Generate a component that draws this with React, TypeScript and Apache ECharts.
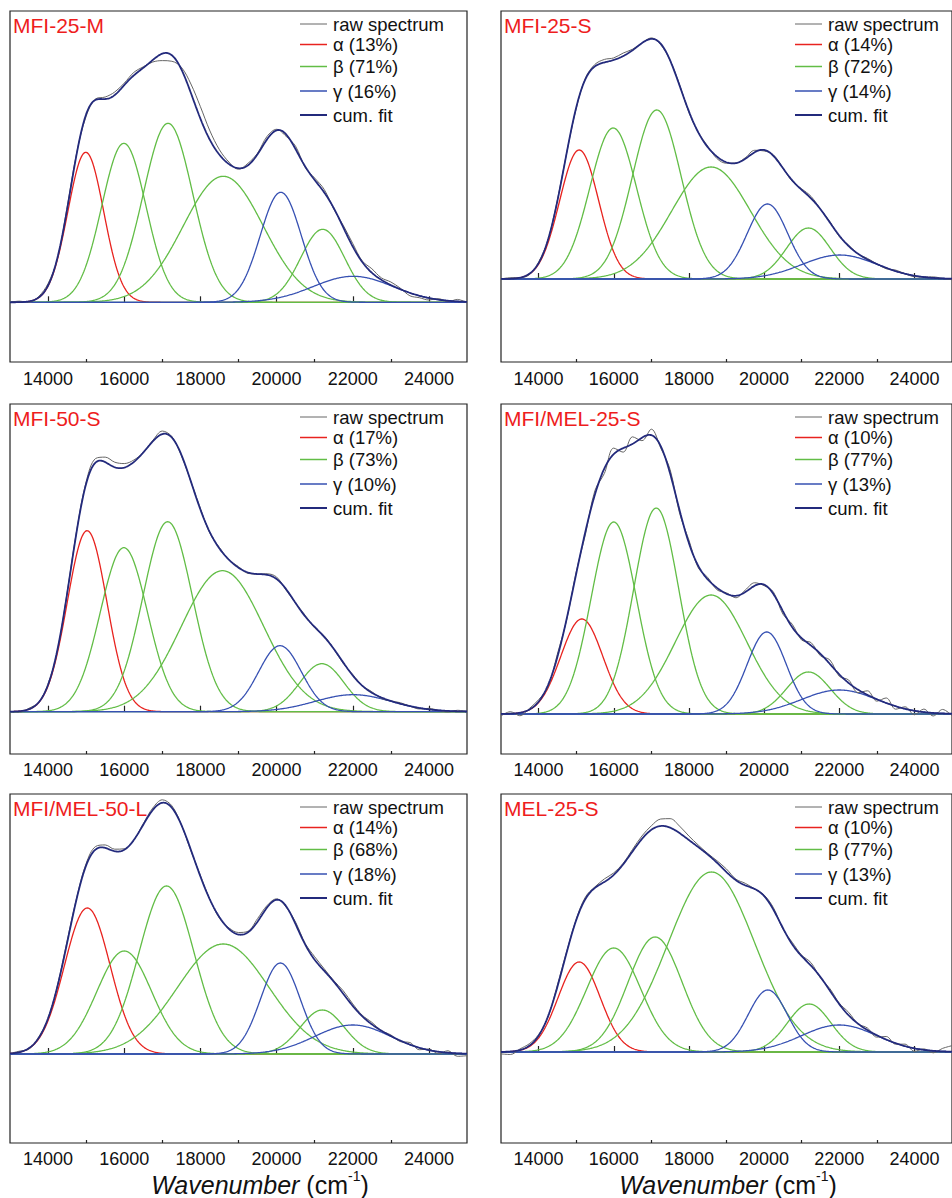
import React, { useEffect, useRef } from "react";
import * as echarts from "echarts";

// ---------- data ----------
const X_MIN = 13000;
const X_MAX = 25000;
const xTickLabels = [14000, 16000, 18000, 20000, 22000, 24000];
const xMinorTicks = [15000, 17000, 19000, 21000, 23000];

const panelTitles = ["MFI-25-M", "MFI-25-S", "MFI-50-S", "MFI/MEL-25-S", "MFI/MEL-50-L", "MEL-25-S"];
const alphaShares = [13, 14, 17, 10, 14, 10];
const betaShares = [71, 72, 73, 77, 68, 77];
const gammaShares = [16, 14, 10, 13, 18, 13];

// peak order: α, β1, β2, β3, γ1, β4, γ2
const peakKinds = ["a", "b", "b", "b", "g", "b", "g"];

const p1Centers = [14990, 15990, 17150, 18600, 20110, 21210, 22010];
const p1Heights = [150, 159, 179, 126, 110, 73, 26];
const p1Widths = [470, 580, 650, 1050, 540, 580, 1050];

const p2Centers = [15080, 15985, 17145, 18590, 20090, 21180, 22010];
const p2Heights = [129, 151, 169, 112, 75, 51, 24];
const p2Widths = [520, 620, 650, 1050, 540, 580, 1000];

const p3Centers = [15025, 15990, 17140, 18580, 20090, 21190, 22010];
const p3Heights = [181, 164, 190, 141, 66, 48, 17];
const p3Widths = [520, 620, 650, 1080, 560, 580, 1000];

const p4Centers = [15150, 16000, 17130, 18590, 20070, 21180, 22000];
const p4Heights = [95, 192, 206, 119, 82, 42, 24];
const p4Widths = [560, 600, 600, 950, 520, 580, 1000];

const p5Centers = [15030, 16000, 17110, 18600, 20100, 21200, 22000];
const p5Heights = [146, 103, 168, 110, 91, 44, 29];
const p5Widths = [600, 720, 720, 1200, 520, 580, 1000];

const p6Centers = [15080, 16000, 17100, 18600, 20100, 21200, 22000];
const p6Heights = [90, 104, 115, 180, 62, 48, 27];
const p6Widths = [560, 720, 720, 1150, 520, 580, 1000];

// raw spectrum minus cumulative fit, read every 250 cm-1 from 13000 to 25000
const p1Residuals = [0, 1, -1, 1, 2, -1, 2, 1, -2, 1, 2, 3, 2, 3, 1, -2, -7, -6, 2, 9, 12, 9, 5, 2, -1, 2, 1, 3, 1, -2, 3, -1, 2, 3, -1, 2, 3, 1, 4, 2, 3, 1, -3, -2, -2, 1, -1, 2, -1];
const p2Residuals = [0, 1, 0, -1, 1, 0, 1, 0, -1, 1, 2, 3, 2, 3, 1, 0, 1, -1, 0, 1, -1, 0, 1, -2, -1, 0, 1, 2, -1, 1, 0, -1, 1, 2, 0, 1, -1, 1, 0, 1, 0, -1, 1, 0, -1, 0, 1, 0, -1];
const p3Residuals = [0, -1, 1, 0, 1, -1, 1, 1, 2, 4, 5, 5, 4, 2, 0, 1, 3, 1, -1, 0, 1, -1, 1, 0, 1, -1, 0, 1, 2, -1, 0, 1, -1, 1, 0, -1, 1, 0, 1, -1, 0, 1, 0, -1, 1, 0, -1, 1, 0];
const p4Residuals = [-2, 2, -3, 1, 2, -2, 3, -1, 2, -3, 4, -5, 6, -4, 7, -3, 6, -2, 4, -3, 3, -2, 2, -2, 1, -2, 2, 3, -1, 2, -3, 3, -2, 3, -2, 4, -2, 3, -3, 4, -2, 5, -3, 2, -4, 3, -3, 4, -2];
const p5Residuals = [0, 1, -1, 1, 0, 1, 2, 1, 2, 3, 3, 2, 1, 0, 1, 2, 3, 2, 0, -1, 1, 0, -1, 1, 2, 1, 3, 2, 1, -1, 2, 1, 3, 2, 1, 3, 2, 1, 2, 0, 1, -1, 2, -2, 1, -2, 2, -3, -2];
const p6Residuals = [-2, -3, 1, 2, 1, -1, 2, 1, 1, 2, 1, 3, 2, 1, 2, 3, 4, 7, 9, 7, 4, 2, 1, 2, 3, 1, 2, 0, 1, 2, -1, 2, 1, 3, -1, 2, 1, 3, 0, 2, -2, 3, -1, 2, -3, 1, -2, 3, 6];
const RESID_STEP = 250;

const panelData = [
  { centers: p1Centers, heights: p1Heights, widths: p1Widths, resid: p1Residuals },
  { centers: p2Centers, heights: p2Heights, widths: p2Widths, resid: p2Residuals },
  { centers: p3Centers, heights: p3Heights, widths: p3Widths, resid: p3Residuals },
  { centers: p4Centers, heights: p4Heights, widths: p4Widths, resid: p4Residuals },
  { centers: p5Centers, heights: p5Heights, widths: p5Widths, resid: p5Residuals },
  { centers: p6Centers, heights: p6Heights, widths: p6Widths, resid: p6Residuals },
];

// ---------- layout ----------
const COLS = [
  { left: 10, width: 457 },
  { left: 501, width: 458 },
];
const ROWS = [
  { top: 11, height: 351, labelMargin: 8 },
  { top: 404, height: 350, labelMargin: 7 },
  { top: 794, height: 349, labelMargin: 7 },
];
// vertical position of the zero line inside each panel (pixels from frame top)
const baselineOffsets = [291.3, 268, 307.7, 310, 260, 258];

const FONT = "'Liberation Sans', Arial, Helvetica, sans-serif";
const C_ALPHA = "#e8231f";
const C_BETA = "#62bd46";
const C_GAMMA = "#3650b2";
const C_CUM = "#232a7c";
const C_RAW = "#666666";
const C_TITLE = "#ee1d1d";
const C_FRAME = "#222222";

const kindColor: Record<string, string> = { a: C_ALPHA, b: C_BETA, g: C_GAMMA };

function gauss(x: number, c: number, h: number, s: number) {
  const d = x - c;
  return h * Math.exp(-(d * d) / (2 * s * s));
}

function cumAt(p: typeof panelData[number], x: number) {
  let s = 0;
  for (let k = 0; k < p.centers.length; k++) s += gauss(x, p.centers[k], p.heights[k], p.widths[k]);
  return s;
}

function buildOption() {
  const grids: any[] = [];
  const xAxes: any[] = [];
  const yAxes: any[] = [];
  const series: any[] = [];
  const graphics: any[] = [];

  const xs: number[] = [];
  for (let x = X_MIN; x <= X_MAX; x += 20) xs.push(x);

  panelData.forEach((p, i) => {
    const col = COLS[i % 2];
    const row = ROWS[Math.floor(i / 2)];
    const base = baselineOffsets[i];
    grids.push({
      left: col.left,
      top: row.top,
      width: col.width,
      height: row.height,
      show: true,
      borderColor: C_FRAME,
      borderWidth: 1.2,
      backgroundColor: "transparent",
      containLabel: false,
    });
    xAxes.push({
      type: "value",
      gridIndex: i,
      min: X_MIN,
      max: X_MAX,
      interval: 1000,
      position: "bottom",
      axisLine: { show: false },
      splitLine: { show: false },
      axisTick: {
        show: true,
        inside: true,
        length: 6,
        customValues: xTickLabels,
        lineStyle: { color: C_FRAME, width: 1.2 },
      },
      axisLabel: {
        show: true,
        customValues: xTickLabels,
        formatter: (v: number) => (v % 2000 === 0 ? String(v) : ""),
        fontSize: 18,
        color: "#111",
        fontFamily: FONT,
        margin: row.labelMargin,
      },
    });
    xAxes.push({
      type: "value",
      gridIndex: i,
      min: X_MIN,
      max: X_MAX,
      interval: 1000,
      position: "bottom",
      axisLine: { show: false },
      splitLine: { show: false },
      axisTick: {
        show: true,
        inside: true,
        length: 3,
        customValues: xMinorTicks,
        lineStyle: { color: C_FRAME, width: 1.2 },
      },
      axisLabel: { show: false },
    });
    yAxes.push({
      type: "value",
      gridIndex: i,
      min: -(row.height - base),
      max: base,
      show: false,
    });

    // components
    p.centers.forEach((c, k) => {
      series.push({
        type: "line",
        xAxisIndex: 2 * i,
        yAxisIndex: i,
        showSymbol: false,
        silent: true,
        lineStyle: { color: kindColor[peakKinds[k]], width: 1.3 },
        data: xs.map((x) => [x, gauss(x, c, p.heights[k], p.widths[k])]),
        z: peakKinds[k] === "g" ? 3 : 2,
      });
    });
    // raw spectrum
    series.push({
      type: "line",
      xAxisIndex: 2 * i,
      yAxisIndex: i,
      showSymbol: false,
      silent: true,
      smooth: 0.35,
      lineStyle: { color: C_RAW, width: 1 },
      data: p.resid.map((r, j) => {
        const x = X_MIN + j * RESID_STEP;
        return [x, cumAt(p, x) + r];
      }),
      z: 4,
    });
    // cumulative fit
    series.push({
      type: "line",
      xAxisIndex: 2 * i,
      yAxisIndex: i,
      showSymbol: false,
      silent: true,
      lineStyle: { color: C_CUM, width: 1.8 },
      data: xs.map((x) => [x, cumAt(p, x)]),
      z: 5,
    });

    // title
    graphics.push({
      type: "text",
      x: col.left + 3,
      y: row.top + 14,
      style: {
        text: panelTitles[i],
        fill: C_TITLE,
        font: `21px ${FONT}`,
        verticalAlign: "middle",
        align: "left",
      },
      z: 10,
    });
    // legend
    const legX = col.left + (i % 2 === 0 ? 290 : 294);
    const legRows = [
      { text: "raw spectrum", color: C_RAW, w: 1 },
      { text: `α (${alphaShares[i]}%)`, color: C_ALPHA, w: 1.5 },
      { text: `β (${betaShares[i]}%)`, color: C_BETA, w: 1.5 },
      { text: `γ (${gammaShares[i]}%)`, color: C_GAMMA, w: 1.5 },
      { text: "cum. fit", color: C_CUM, w: 2 },
    ];
    const legY = [13, 33.5, 55.5, 80, 104];
    legRows.forEach((lr, r) => {
      const y = row.top + legY[r];
      graphics.push({
        type: "line",
        shape: { x1: legX, y1: y, x2: legX + 27, y2: y },
        style: { stroke: lr.color, lineWidth: lr.w },
        z: 10,
      });
      graphics.push({
        type: "text",
        x: legX + 33,
        y: y,
        style: {
          text: lr.text,
          fill: "#111",
          font: `18.5px ${FONT}`,
          verticalAlign: "middle",
          align: "left",
        },
        z: 10,
      });
    });
  });

  // axis titles
  const axisTitleCenters = [260, 728];
  axisTitleCenters.forEach((cx) => {
    graphics.push({
      type: "text",
      x: cx,
      y: 1183,
      style: {
        text: "{i|Wavenumber}{n| (cm}{s|-1}{n|)}",
        align: "center",
        verticalAlign: "middle",
        rich: {
          i: { fontSize: 25, fontStyle: "italic", fontFamily: FONT, fill: "#111", lineHeight: 28, verticalAlign: "bottom" },
          n: { fontSize: 25, fontFamily: FONT, fill: "#111", lineHeight: 28, verticalAlign: "bottom" },
          s: { fontSize: 14, fontFamily: FONT, fill: "#111", lineHeight: 14, verticalAlign: "top" },
        },
      },
      z: 10,
    });
  });

  return {
    animation: false,
    backgroundColor: "#ffffff",
    grid: grids,
    xAxis: xAxes,
    yAxis: yAxes,
    series,
    graphic: graphics,
  };
}

export default function App() {
  const ref = useRef<HTMLDivElement>(null);
  useEffect(() => {
    if (!ref.current) return;
    const chart = echarts.init(ref.current, undefined, { renderer: "svg" });
    chart.setOption(buildOption() as any);
    return () => chart.dispose();
  }, []);
  return (
    <div
      ref={ref}
      style={{ position: "absolute", left: 0, top: 0, width: 952, height: 1198, background: "#fff" }}
    />
  );
}
